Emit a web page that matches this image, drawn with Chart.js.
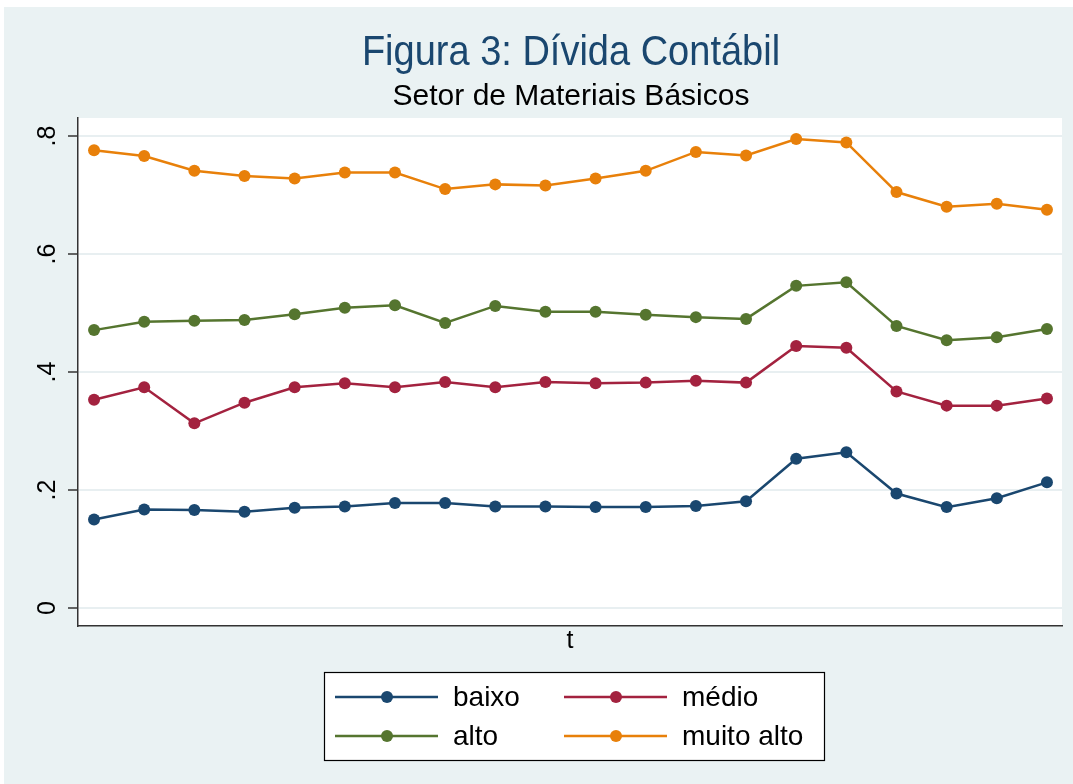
<!DOCTYPE html>
<html>
<head>
<meta charset="utf-8">
<script src="https://cdn.jsdelivr.net/npm/chart.js@4"></script>
<style>
  html, body { margin: 0; padding: 0; background: #ffffff; }
  #wrap { position: absolute; left: 0; top: 0; width: 1073px; height: 784px; }
</style>
</head>
<body>
<div id="wrap"><canvas id="dividaChart" width="1073" height="784"></canvas></div>
<script>
// periods t = 1..20
var periods = [1, 2, 3, 4, 5, 6, 7, 8, 9, 10, 11, 12, 13, 14, 15, 16, 17, 18, 19, 20];
var seriesNames = ['baixo', 'médio', 'alto', 'muito alto'];
var baixo = [0.150, 0.167, 0.166, 0.163, 0.170, 0.172, 0.178, 0.178, 0.172, 0.172,
             0.171, 0.171, 0.173, 0.181, 0.253, 0.264, 0.194, 0.171, 0.186, 0.213];
var medio = [0.353, 0.374, 0.313, 0.348, 0.374, 0.381, 0.374, 0.383, 0.374, 0.383,
             0.381, 0.382, 0.385, 0.382, 0.444, 0.441, 0.367, 0.343, 0.343, 0.355];
var alto = [0.471, 0.485, 0.487, 0.488, 0.498, 0.509, 0.513, 0.483, 0.512, 0.502,
            0.502, 0.497, 0.493, 0.490, 0.546, 0.552, 0.478, 0.454, 0.459, 0.473];
var muitoAlto = [0.776, 0.766, 0.741, 0.732, 0.728, 0.738, 0.738, 0.710, 0.718, 0.716,
                 0.728, 0.741, 0.773, 0.767, 0.795, 0.789, 0.705, 0.680, 0.685, 0.675];
var yTicks = [0, 0.2, 0.4, 0.6, 0.8];
var yTickLabels = ['0', '.2', '.4', '.6', '.8'];

var colors = ['#1A476F', '#A3223F', '#55752F', '#E8800A'];
var bgColor = '#EAF2F3';
var FONT = '"Liberation Sans", Arial, sans-serif';

function toPoints(vals) {
    return vals.map(function (v, i) { return { x: periods[i], y: v }; });
}

var allSeries = [baixo, medio, alto, muitoAlto];
var datasets = allSeries.map(function (vals, i) {
    return {
        label: seriesNames[i],
        data: toPoints(vals),
        borderColor: colors[i],
        backgroundColor: colors[i],
        pointBackgroundColor: colors[i],
        pointBorderColor: colors[i],
        pointRadius: 6,
        pointBorderWidth: 0,
        borderWidth: 2.5,
        tension: 0,
        fill: false
    };
});

// page background, plot region, titles, rotated y labels and the legend
var stataLook = {
    id: 'stataLook',
    beforeDraw: function (chart) {
        var c = chart.ctx, a = chart.chartArea;
        c.save();
        c.fillStyle = '#ffffff';
        c.fillRect(0, 0, chart.width, chart.height);
        c.fillStyle = bgColor;
        c.fillRect(4, 7, chart.width - 4, chart.height - 7);
        c.fillStyle = '#ffffff';
        c.fillRect(a.left, a.top, a.right - a.left, a.bottom - a.top);
        c.restore();
    },
    afterDraw: function (chart) {
        var c = chart.ctx, a = chart.chartArea;
        var yScale = chart.scales.y;
        c.save();
        // titles
        c.textAlign = 'center';
        c.textBaseline = 'middle';
        c.fillStyle = '#1A476F';
        c.save();
        c.translate(571, 53);
        c.scale(1, 1.1);
        c.font = '38px ' + FONT;
        c.fillText('Figura 3: Dívida Contábil', 0, 0);
        c.restore();
        c.fillStyle = '#000000';
        c.font = '30px ' + FONT;
        c.fillText('Setor de Materiais Básicos', 571, 97);

        // y tick labels, rotated like Stata
        c.font = '25px ' + FONT;
        c.fillStyle = '#000000';
        yTicks.forEach(function (v, i) {
            var py = yScale.getPixelForValue(v);
            c.save();
            c.translate(48, py);
            c.rotate(-Math.PI / 2);
            c.textAlign = 'center';
            c.textBaseline = 'middle';
            c.fillText(yTickLabels[i], 0, 0);
            c.restore();
        });

        // legend
        var box = { x: 324, y: 672, w: 500, h: 88 };
        c.fillStyle = '#ffffff';
        c.fillRect(box.x, box.y, box.w, box.h);
        c.strokeStyle = '#000000';
        c.lineWidth = 1.2;
        c.strokeRect(box.x + 0.5, box.y + 0.5, box.w, box.h);
        var colX = [335, 564];
        var rowY = [697, 736];
        c.font = '28px ' + FONT;
        c.textAlign = 'left';
        c.textBaseline = 'middle';
        chart.data.datasets.forEach(function (ds, i) {
            var x0 = colX[i % 2], y0 = rowY[Math.floor(i / 2)];
            c.strokeStyle = ds.borderColor;
            c.lineWidth = 2.5;
            c.beginPath();
            c.moveTo(x0, y0);
            c.lineTo(x0 + 103, y0);
            c.stroke();
            c.fillStyle = ds.borderColor;
            c.beginPath();
            c.arc(x0 + 52, y0, 6, 0, Math.PI * 2);
            c.fill();
            c.fillStyle = '#000000';
            c.fillText(ds.label, x0 + 118, y0 + 1);
        });
        c.restore();
    }
};

var ctx = document.getElementById('dividaChart').getContext('2d');
var dividaChart = new Chart(ctx, {
    type: 'line',
    data: { datasets: datasets },
    options: {
        responsive: false,
        animation: false,
        events: [],
        layout: { padding: { left: 0, right: 11, top: 118, bottom: 128 } },
        plugins: {
            legend: { display: false },
            title: { display: false },
            tooltip: { enabled: false }
        },
        scales: {
            x: {
                type: 'linear',
                min: 0.68,
                max: 20.3,
                ticks: { display: false },
                grid: { display: false, drawTicks: false },
                border: { display: true, color: '#333333', width: 1.5 },
                title: {
                    display: true,
                    text: 't',
                    color: '#000000',
                    font: { family: FONT, size: 25 },
                    padding: { top: 0, bottom: 0 }
                }
            },
            y: {
                type: 'linear',
                min: -0.0305,
                max: 0.8305,
                afterFit: function (scale) { scale.width = 78; },
                afterBuildTicks: function (scale) {
                    scale.ticks = yTicks.map(function (v) { return { value: v }; });
                },
                ticks: { display: false },
                grid: {
                    color: '#E8EFF1',
                    lineWidth: 2,
                    drawTicks: true,
                    tickLength: 10,
                    tickColor: '#333333',
                    tickWidth: 1.5
                },
                border: { display: true, color: '#333333', width: 1.5 }
            }
        }
    },
    plugins: [stataLook]
});
</script>
</body>
</html>
